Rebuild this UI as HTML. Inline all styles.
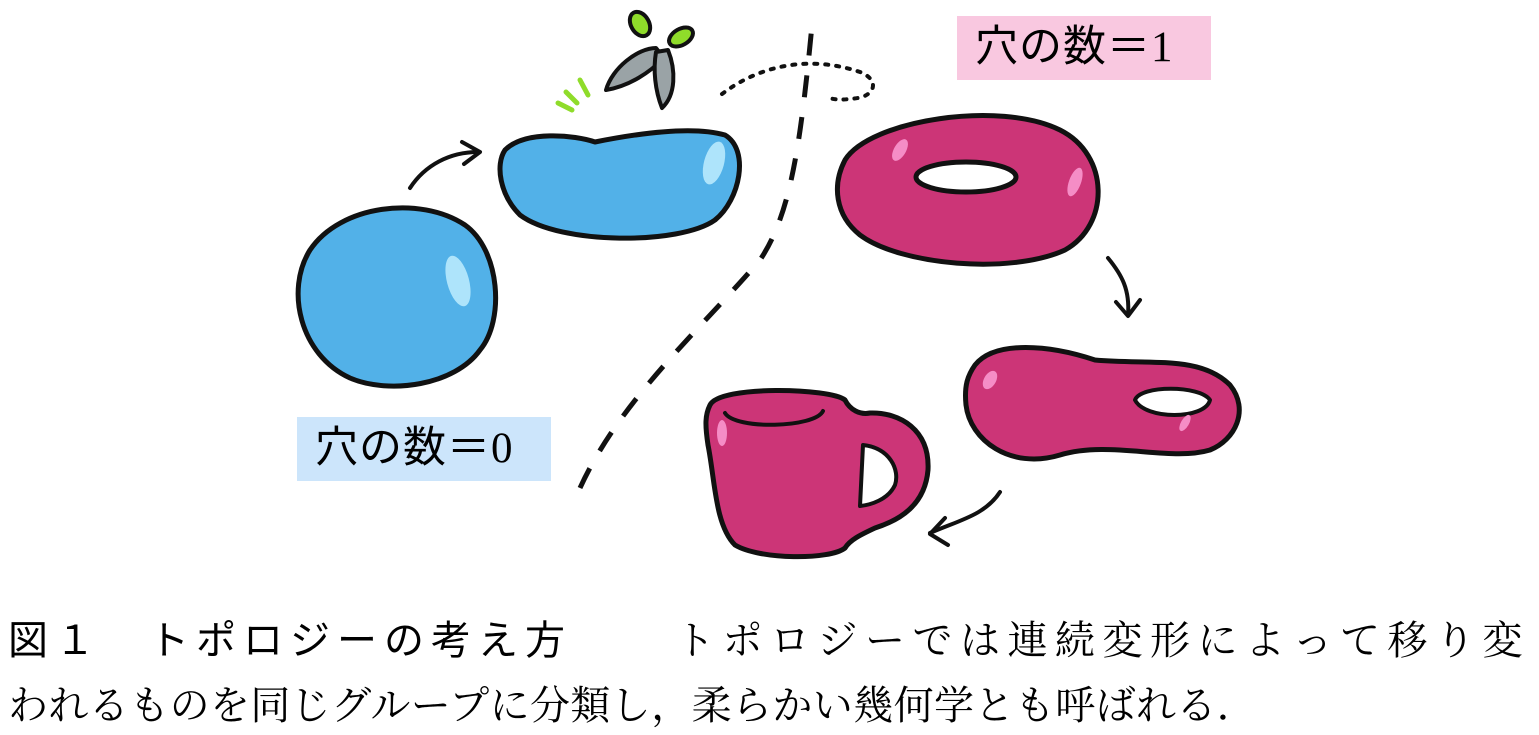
<!DOCTYPE html>
<html><head><meta charset="utf-8"><style>
html,body{margin:0;padding:0;background:#fff;width:1539px;height:735px;overflow:hidden;position:relative}
.t{position:absolute;white-space:nowrap;line-height:1;color:#000}
.g{font-family:"Liberation Sans","Noto Sans CJK JP",sans-serif}
.m{font-family:"Liberation Serif","Noto Serif CJK SC",serif}
.lab{position:absolute;font-family:"Liberation Serif","Noto Sans CJK JP",sans-serif;font-size:43px;letter-spacing:1px;line-height:64px;padding-left:18px;box-sizing:border-box;width:254px;height:64px}
</style></head><body>
<svg width="1539" height="600" style="position:absolute;left:0;top:0" viewBox="0 0 1539 600">
<g stroke="#111" stroke-width="5" stroke-linejoin="round" stroke-linecap="round">
<path d="M310 250 C340 205 420 195 465 225 C500 250 505 320 480 350 C455 385 390 395 350 378 C300 355 285 290 310 250Z" fill="#52b1e8"/>
<path d="M505 150 C525 130 575 135 595 142 C630 135 690 125 725 135 C750 150 740 200 715 220 C680 245 560 245 520 215 C500 195 495 165 505 150Z" fill="#52b1e8"/>
<path d="M845 160 C870 120 1000 100 1060 130 C1110 155 1110 225 1065 250 C1010 275 900 265 860 235 C835 215 832 185 845 160Z" fill="#cc3577"/>
<ellipse cx="966" cy="177" rx="50" ry="15" fill="#fff"/>
<path d="M975 365 C995 340 1050 345 1095 360 C1150 365 1200 355 1230 385 C1250 410 1235 440 1210 450 C1170 462 1110 440 1060 455 C1010 470 970 440 966 405 C964 385 968 375 975 365Z" fill="#cc3577"/>
<path d="M1135 400 C1140 385 1200 385 1210 400 C1205 420 1145 420 1135 400Z" fill="#fff" stroke-width="4"/>
<path d="M710 405 C720 385 830 388 845 400 C850 410 860 415 870 413 C900 412 930 430 928 470 C925 505 900 520 875 528 C860 535 850 540 845 548 C830 560 760 560 735 545 C715 525 715 480 708 445 C705 425 705 415 710 405Z" fill="#cc3577"/>
<path d="M725 413 C735 430 815 428 823 411" fill="none" stroke-width="4"/>
<path d="M863 445 C890 448 900 470 895 485 C888 500 870 505 860 506 Z" fill="#fff" stroke-width="4"/>
<path d="M410 188 C425 165 450 152 478 152" fill="none" stroke-width="4"/>
<path d="M462 142 L480 152 L464 164" fill="none" stroke-width="4"/>
<path d="M1108 258 C1122 275 1130 290 1128 315" fill="none" stroke-width="4"/>
<path d="M1116 302 L1128 316 L1140 300" fill="none" stroke-width="4"/>
<path d="M1000 492 C985 515 960 520 930 533" fill="none" stroke-width="4"/>
<path d="M945 518 L930 534 L948 545" fill="none" stroke-width="4"/>
<path d="M580 488 C620 400 700 330 760 260 C790 215 800 150 812 25" fill="none" stroke-width="5" stroke-dasharray="22 20" stroke-linecap="butt"/>
<path d="M722 94 C760 65 810 55 860 72 C880 80 875 95 858 98 C845 100 835 100 830 98" fill="none" stroke-width="4" stroke-dasharray="3 8"/>
<path d="M606 90 C612 68 638 48 656 48 L664 58 C650 72 630 86 606 90Z" fill="#9aa3a6" stroke-width="4"/>
<path d="M656 52 L668 50 C676 70 676 95 662 108 C655 90 653 70 656 52Z" fill="#9aa3a6" stroke-width="4"/>
<ellipse cx="640" cy="24" rx="9" ry="13" fill="#8fdc2a" stroke-width="4" transform="rotate(-30 640 24)"/>
<ellipse cx="681" cy="37" rx="13" ry="8" fill="#8fdc2a" stroke-width="4" transform="rotate(-30 681 37)"/>
</g>
<g fill="#aee4fb" stroke="none">
<ellipse cx="458" cy="281" rx="11" ry="26" transform="rotate(-15 458 281)"/>
<ellipse cx="714" cy="163" rx="10" ry="22" transform="rotate(15 714 163)"/>
</g>
<g fill="#f58dc6" stroke="none">
<ellipse cx="900" cy="150" rx="6" ry="12" transform="rotate(30 900 150)"/>
<ellipse cx="1075" cy="182" rx="6" ry="15" transform="rotate(20 1075 182)"/>
<ellipse cx="990" cy="380" rx="6" ry="10" transform="rotate(30 990 380)"/>
<ellipse cx="722" cy="433" rx="5" ry="13"/>
<ellipse cx="1185" cy="423" rx="4" ry="9" transform="rotate(30 1185 423)"/>
</g>
<g stroke="#8fdc2a" stroke-width="5" stroke-linecap="round">
<line x1="558" y1="103" x2="572" y2="110"/><line x1="566" y1="92" x2="577" y2="103"/><line x1="580" y1="80" x2="588" y2="95"/>
</g>
</svg>
<div class="lab" style="left:297px;top:417px;background:#cce5fb">穴の数＝0</div>
<div class="lab" style="left:957px;top:16px;background:#f9c8e0">穴の数＝1</div>
<div class="t g" style="left:8px;top:621px;font-size:40px;letter-spacing:7px">図１　トポロジーの考え方</div>
<div class="t m" style="left:675px;top:621px;font-size:40px;letter-spacing:7.5px">トポロジーでは連続変形によって移り変</div>
<div class="t m" style="left:8px;top:686px;font-size:40px;letter-spacing:0.4px">われるものを同じグループに分類し，柔らかい幾何学とも呼ばれる．</div>
</body></html>
